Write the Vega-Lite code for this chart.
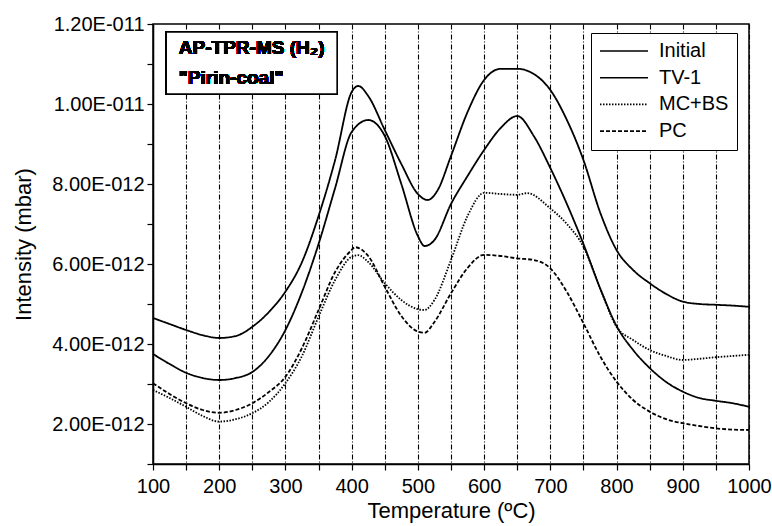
{
  "$schema": "https://vega.github.io/schema/vega-lite/v6.json",
  "width": 596,
  "height": 440,
  "autosize": {"type": "none"},
  "padding": {"left": 153, "top": 24, "right": 23, "bottom": 62},
  "background": "white",
  "config": {
    "font": "Liberation Sans",
    "view": {"stroke": "black", "strokeWidth": 1.5},
    "axis": {
      "domainColor": "black",
      "domainWidth": 1.5,
      "tickColor": "black",
      "tickWidth": 1.2,
      "labelColor": "black",
      "titleColor": "black",
      "labelFont": "Liberation Sans",
      "titleFont": "Liberation Sans",
      "labelFontSize": 20,
      "titleFontSize": 22,
      "titleFontWeight": "normal"
    }
  },
  "datasets": {
    "curves": [
      {"series": "Initial", "T": 100, "I": 4.65e-12},
      {"series": "Initial", "T": 125, "I": 4.5e-12},
      {"series": "Initial", "T": 150, "I": 4.35e-12},
      {"series": "Initial", "T": 175, "I": 4.22e-12},
      {"series": "Initial", "T": 200, "I": 4.15e-12},
      {"series": "Initial", "T": 225, "I": 4.2e-12},
      {"series": "Initial", "T": 250, "I": 4.43e-12},
      {"series": "Initial", "T": 275, "I": 4.8e-12},
      {"series": "Initial", "T": 300, "I": 5.31e-12},
      {"series": "Initial", "T": 325, "I": 6.05e-12},
      {"series": "Initial", "T": 350, "I": 7.2e-12},
      {"series": "Initial", "T": 375, "I": 8.6e-12},
      {"series": "Initial", "T": 400, "I": 10.3e-12},
      {"series": "Initial", "T": 410, "I": 10.45e-12},
      {"series": "Initial", "T": 425, "I": 10.2e-12},
      {"series": "Initial", "T": 450, "I": 9.35e-12},
      {"series": "Initial", "T": 475, "I": 8.5e-12},
      {"series": "Initial", "T": 500, "I": 7.75e-12},
      {"series": "Initial", "T": 515, "I": 7.6e-12},
      {"series": "Initial", "T": 530, "I": 7.85e-12},
      {"series": "Initial", "T": 550, "I": 8.7e-12},
      {"series": "Initial", "T": 575, "I": 9.8e-12},
      {"series": "Initial", "T": 600, "I": 10.6e-12},
      {"series": "Initial", "T": 625, "I": 10.88e-12},
      {"series": "Initial", "T": 650, "I": 10.88e-12},
      {"series": "Initial", "T": 675, "I": 10.75e-12},
      {"series": "Initial", "T": 700, "I": 10.35e-12},
      {"series": "Initial", "T": 725, "I": 9.6e-12},
      {"series": "Initial", "T": 750, "I": 8.6e-12},
      {"series": "Initial", "T": 775, "I": 7.3e-12},
      {"series": "Initial", "T": 800, "I": 6.35e-12},
      {"series": "Initial", "T": 825, "I": 5.85e-12},
      {"series": "Initial", "T": 850, "I": 5.52e-12},
      {"series": "Initial", "T": 875, "I": 5.25e-12},
      {"series": "Initial", "T": 900, "I": 5.06e-12},
      {"series": "Initial", "T": 925, "I": 5.0e-12},
      {"series": "Initial", "T": 950, "I": 4.98e-12},
      {"series": "Initial", "T": 975, "I": 4.96e-12},
      {"series": "Initial", "T": 1000, "I": 4.93e-12},
      {"series": "TV-1", "T": 100, "I": 3.75e-12},
      {"series": "TV-1", "T": 125, "I": 3.5e-12},
      {"series": "TV-1", "T": 150, "I": 3.28e-12},
      {"series": "TV-1", "T": 175, "I": 3.15e-12},
      {"series": "TV-1", "T": 200, "I": 3.1e-12},
      {"series": "TV-1", "T": 225, "I": 3.15e-12},
      {"series": "TV-1", "T": 250, "I": 3.3e-12},
      {"series": "TV-1", "T": 275, "I": 3.7e-12},
      {"series": "TV-1", "T": 300, "I": 4.35e-12},
      {"series": "TV-1", "T": 325, "I": 5.3e-12},
      {"series": "TV-1", "T": 350, "I": 6.5e-12},
      {"series": "TV-1", "T": 375, "I": 7.9e-12},
      {"series": "TV-1", "T": 400, "I": 9.3e-12},
      {"series": "TV-1", "T": 425, "I": 9.6e-12},
      {"series": "TV-1", "T": 450, "I": 9.2e-12},
      {"series": "TV-1", "T": 475, "I": 8.0e-12},
      {"series": "TV-1", "T": 500, "I": 6.7e-12},
      {"series": "TV-1", "T": 510, "I": 6.45e-12},
      {"series": "TV-1", "T": 525, "I": 6.6e-12},
      {"series": "TV-1", "T": 550, "I": 7.5e-12},
      {"series": "TV-1", "T": 575, "I": 8.2e-12},
      {"series": "TV-1", "T": 600, "I": 8.85e-12},
      {"series": "TV-1", "T": 625, "I": 9.4e-12},
      {"series": "TV-1", "T": 650, "I": 9.7e-12},
      {"series": "TV-1", "T": 675, "I": 9.2e-12},
      {"series": "TV-1", "T": 700, "I": 8.4e-12},
      {"series": "TV-1", "T": 725, "I": 7.5e-12},
      {"series": "TV-1", "T": 750, "I": 6.5e-12},
      {"series": "TV-1", "T": 775, "I": 5.4e-12},
      {"series": "TV-1", "T": 800, "I": 4.45e-12},
      {"series": "TV-1", "T": 825, "I": 3.85e-12},
      {"series": "TV-1", "T": 850, "I": 3.4e-12},
      {"series": "TV-1", "T": 875, "I": 3.05e-12},
      {"series": "TV-1", "T": 900, "I": 2.81e-12},
      {"series": "TV-1", "T": 925, "I": 2.65e-12},
      {"series": "TV-1", "T": 950, "I": 2.58e-12},
      {"series": "TV-1", "T": 975, "I": 2.52e-12},
      {"series": "TV-1", "T": 1000, "I": 2.43e-12},
      {"series": "MC+BS", "T": 100, "I": 2.85e-12},
      {"series": "MC+BS", "T": 125, "I": 2.65e-12},
      {"series": "MC+BS", "T": 150, "I": 2.43e-12},
      {"series": "MC+BS", "T": 175, "I": 2.2e-12},
      {"series": "MC+BS", "T": 200, "I": 2.06e-12},
      {"series": "MC+BS", "T": 225, "I": 2.12e-12},
      {"series": "MC+BS", "T": 250, "I": 2.27e-12},
      {"series": "MC+BS", "T": 275, "I": 2.55e-12},
      {"series": "MC+BS", "T": 300, "I": 3.02e-12},
      {"series": "MC+BS", "T": 325, "I": 3.7e-12},
      {"series": "MC+BS", "T": 350, "I": 4.68e-12},
      {"series": "MC+BS", "T": 375, "I": 5.6e-12},
      {"series": "MC+BS", "T": 400, "I": 6.18e-12},
      {"series": "MC+BS", "T": 410, "I": 6.22e-12},
      {"series": "MC+BS", "T": 425, "I": 6.05e-12},
      {"series": "MC+BS", "T": 450, "I": 5.52e-12},
      {"series": "MC+BS", "T": 475, "I": 5.1e-12},
      {"series": "MC+BS", "T": 500, "I": 4.87e-12},
      {"series": "MC+BS", "T": 510, "I": 4.85e-12},
      {"series": "MC+BS", "T": 525, "I": 5.1e-12},
      {"series": "MC+BS", "T": 550, "I": 6.1e-12},
      {"series": "MC+BS", "T": 575, "I": 7.2e-12},
      {"series": "MC+BS", "T": 600, "I": 7.78e-12},
      {"series": "MC+BS", "T": 625, "I": 7.75e-12},
      {"series": "MC+BS", "T": 650, "I": 7.73e-12},
      {"series": "MC+BS", "T": 665, "I": 7.77e-12},
      {"series": "MC+BS", "T": 700, "I": 7.39e-12},
      {"series": "MC+BS", "T": 725, "I": 7.0e-12},
      {"series": "MC+BS", "T": 750, "I": 6.43e-12},
      {"series": "MC+BS", "T": 775, "I": 5.4e-12},
      {"series": "MC+BS", "T": 800, "I": 4.43e-12},
      {"series": "MC+BS", "T": 825, "I": 4.1e-12},
      {"series": "MC+BS", "T": 850, "I": 3.85e-12},
      {"series": "MC+BS", "T": 875, "I": 3.7e-12},
      {"series": "MC+BS", "T": 900, "I": 3.6e-12},
      {"series": "MC+BS", "T": 925, "I": 3.63e-12},
      {"series": "MC+BS", "T": 950, "I": 3.67e-12},
      {"series": "MC+BS", "T": 975, "I": 3.7e-12},
      {"series": "MC+BS", "T": 1000, "I": 3.73e-12},
      {"series": "PC", "T": 100, "I": 3.02e-12},
      {"series": "PC", "T": 125, "I": 2.75e-12},
      {"series": "PC", "T": 150, "I": 2.52e-12},
      {"series": "PC", "T": 175, "I": 2.35e-12},
      {"series": "PC", "T": 200, "I": 2.28e-12},
      {"series": "PC", "T": 225, "I": 2.35e-12},
      {"series": "PC", "T": 250, "I": 2.52e-12},
      {"series": "PC", "T": 275, "I": 2.8e-12},
      {"series": "PC", "T": 300, "I": 3.18e-12},
      {"series": "PC", "T": 325, "I": 3.9e-12},
      {"series": "PC", "T": 350, "I": 4.85e-12},
      {"series": "PC", "T": 375, "I": 5.8e-12},
      {"series": "PC", "T": 400, "I": 6.35e-12},
      {"series": "PC", "T": 405, "I": 6.42e-12},
      {"series": "PC", "T": 425, "I": 6.2e-12},
      {"series": "PC", "T": 450, "I": 5.43e-12},
      {"series": "PC", "T": 475, "I": 4.7e-12},
      {"series": "PC", "T": 500, "I": 4.31e-12},
      {"series": "PC", "T": 510, "I": 4.28e-12},
      {"series": "PC", "T": 525, "I": 4.55e-12},
      {"series": "PC", "T": 550, "I": 5.27e-12},
      {"series": "PC", "T": 575, "I": 5.9e-12},
      {"series": "PC", "T": 600, "I": 6.23e-12},
      {"series": "PC", "T": 625, "I": 6.2e-12},
      {"series": "PC", "T": 650, "I": 6.14e-12},
      {"series": "PC", "T": 675, "I": 6.1e-12},
      {"series": "PC", "T": 700, "I": 5.89e-12},
      {"series": "PC", "T": 725, "I": 5.3e-12},
      {"series": "PC", "T": 750, "I": 4.52e-12},
      {"series": "PC", "T": 775, "I": 3.7e-12},
      {"series": "PC", "T": 800, "I": 3.06e-12},
      {"series": "PC", "T": 825, "I": 2.6e-12},
      {"series": "PC", "T": 850, "I": 2.31e-12},
      {"series": "PC", "T": 875, "I": 2.12e-12},
      {"series": "PC", "T": 900, "I": 2.02e-12},
      {"series": "PC", "T": 925, "I": 1.95e-12},
      {"series": "PC", "T": 950, "I": 1.89e-12},
      {"series": "PC", "T": 975, "I": 1.86e-12},
      {"series": "PC", "T": 1000, "I": 1.85e-12}
    ]
  },
  "data": {"name": "curves"},
  "encoding": {
    "x": {
      "field": "T",
      "type": "quantitative",
      "scale": {"domain": [100, 1000], "nice": false, "zero": false},
      "axis": {
        "title": "Temperature (ºC)",
        "values": [100, 150, 200, 250, 300, 350, 400, 450, 500, 550, 600, 650, 700, 750, 800, 850, 900, 950, 1000],
        "labelExpr": "datum.value % 100 === 0 ? format(datum.value, 'd') : ''",
        "labelFlush": false,
        "labelOverlap": false,
        "labelPadding": 6,
        "tickSize": 6,
        "titlePadding": 4,
        "grid": true,
        "gridColor": "black",
        "gridDash": [5, 2, 1, 2],
        "gridWidth": 1.1,
        "gridOpacity": 1
      }
    },
    "y": {
      "field": "I",
      "type": "quantitative",
      "scale": {"domain": [1e-12, 1.2e-11], "nice": false, "zero": false},
      "axis": {
        "title": "Intensity (mbar)",
        "values": [1e-12, 2e-12, 3e-12, 4e-12, 5e-12, 6e-12, 7e-12, 8e-12, 9e-12, 1e-11, 1.1e-11, 1.2e-11],
        "labelExpr": "round(datum.value * 1e12) % 2 === 0 ? (datum.value > 9.9e-12 ? format(datum.value * 1e11, '.2f') + 'E-011' : format(datum.value * 1e12, '.2f') + 'E-012') : ''",
        "labelOverlap": false,
        "labelPadding": 3,
        "tickSize": 6,
        "titlePadding": 16,
        "grid": false
      }
    }
  },
  "layer": [
    {
      "mark": {"type": "line", "color": "black", "strokeWidth": 1.8, "interpolate": "monotone"},
      "encoding": {
        "strokeDash": {
          "field": "series",
          "type": "nominal",
          "scale": {
            "domain": ["Initial", "TV-1", "MC+BS", "PC"],
            "range": [[1, 0], [1, 0], [1.5, 1.5], [4, 2]]
          },
          "legend": {
            "title": null,
            "orient": "none",
            "legendX": 438,
            "legendY": 9,
            "symbolType": "stroke",
            "symbolSize": 2304,
            "symbolStrokeWidth": 1.6,
            "symbolStrokeColor": "black",
            "clipHeight": 20,
            "labelFontSize": 20,
            "labelFont": "Liberation Sans",
            "labelColor": "black",
            "labelOffset": 10,
            "rowPadding": 6.7,
            "padding": 8,
            "strokeColor": "black",
            "fillColor": "white"
          }
        }
      }
    },
    {
      "mark": {"type": "rect", "fill": "white", "stroke": "black", "strokeWidth": 1.5},
      "encoding": {
        "x": {"datum": 120},
        "x2": {"datum": 378},
        "y": {"datum": 1.18e-11},
        "y2": {"datum": 1.025e-11}
      }
    },
    {
      "mark": {"type": "text", "align": "left", "baseline": "middle", "fontSize": 19, "fontWeight": "bold", "color": "black", "font": "Liberation Sans"},
      "encoding": {
        "x": {"datum": 139},
        "y": {"datum": 1.139e-11},
        "text": {"value": "AP-TPR-MS (H₂)"}
      }
    },
    {
      "mark": {"type": "text", "align": "left", "baseline": "middle", "fontSize": 19, "fontWeight": "bold", "color": "black", "font": "Liberation Sans"},
      "encoding": {
        "x": {"datum": 139},
        "y": {"datum": 1.066e-11},
        "text": {"value": "\"Pirin-coal\""}
      }
    }
  ]
}
